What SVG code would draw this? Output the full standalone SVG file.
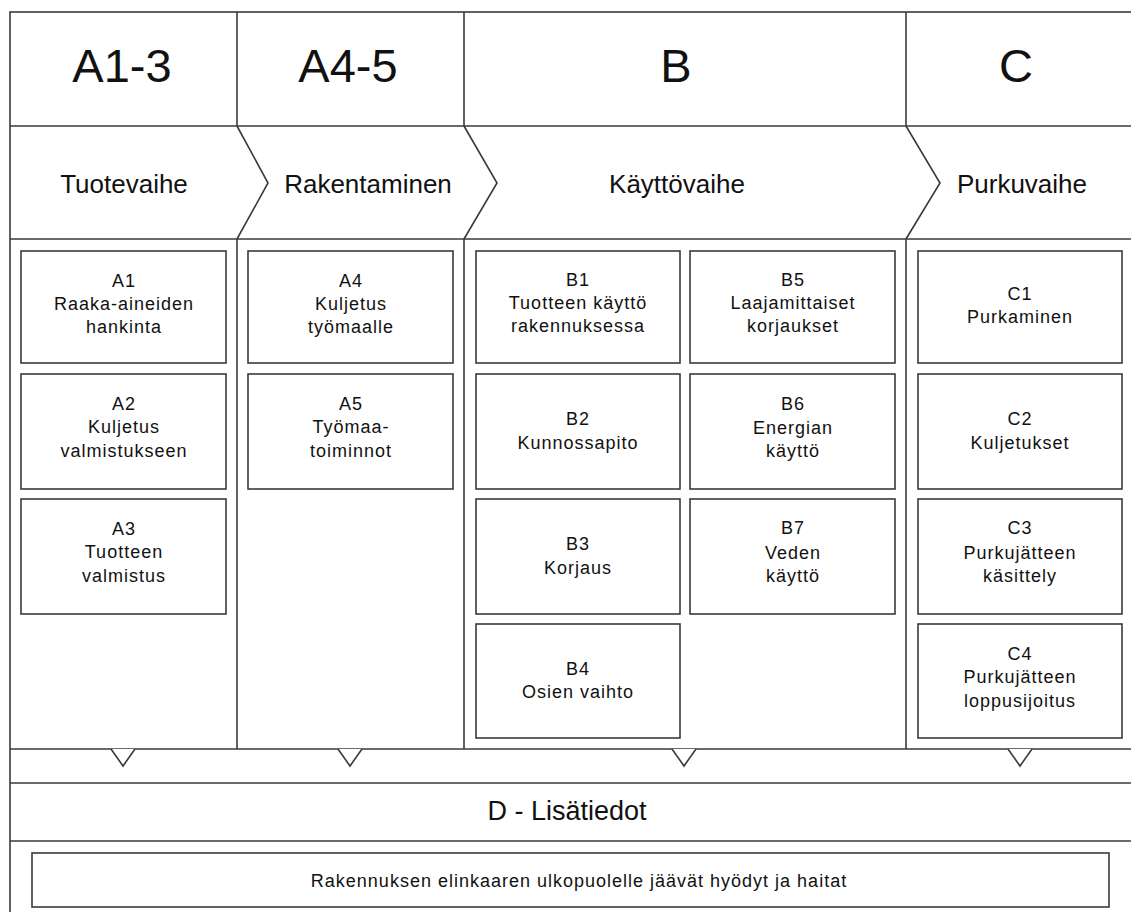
<svg xmlns="http://www.w3.org/2000/svg" width="1131" height="912" viewBox="0 0 1131 912">
<style>
.ln{fill:none;stroke:#3a3a3a;stroke-width:1.6}
.bx{fill:#fff;stroke:#3a3a3a;stroke-width:1.6}
.t{font-family:"Liberation Sans",Arial,sans-serif;fill:#111;text-anchor:middle}
.big{font-size:47px}
.mid{font-size:26px}
.sm{font-size:18px;letter-spacing:1px}
</style>
<rect x="0" y="0" width="1131" height="912" fill="#fff"/>
<g id="frame">
<rect class="ln" x="10" y="12" width="1130" height="910"/>
<line class="ln" x1="10" y1="126" x2="1131" y2="126"/>
<line class="ln" x1="10" y1="239" x2="1131" y2="239"/>
<line class="ln" x1="237" y1="12" x2="237" y2="126"/>
<line class="ln" x1="464" y1="12" x2="464" y2="126"/>
<line class="ln" x1="906" y1="12" x2="906" y2="126"/>
<line class="ln" x1="237" y1="239" x2="237" y2="749"/>
<line class="ln" x1="464" y1="239" x2="464" y2="749"/>
<line class="ln" x1="906" y1="239" x2="906" y2="749"/>
<line class="ln" x1="10" y1="749" x2="1131" y2="749"/>
<line class="ln" x1="10" y1="783" x2="1131" y2="783"/>
<line class="ln" x1="10" y1="841" x2="1131" y2="841"/>
<path class="ln" d="M237,126 L268,183 L237,239"/>
<path class="ln" d="M464,126 L497,183 L464,239"/>
<path class="ln" d="M906,126 L940,183 L906,239"/>
</g>
<g id="headers">
<text class="t big" x="122" y="82">A1-3</text>
<text class="t big" x="348" y="82">A4-5</text>
<text class="t big" x="676" y="82">B</text>
<text class="t big" x="1016" y="82">C</text>
<text class="t mid" x="124" y="193">Tuotevaihe</text>
<text class="t mid" x="368" y="193">Rakentaminen</text>
<text class="t mid" x="677" y="193">Käyttövaihe</text>
<text class="t mid" x="1022" y="193">Purkuvaihe</text>
</g>
<g id="A1"><rect class="bx" x="21" y="251" width="205" height="112"/>
<text class="t sm" x="124" y="287">A1</text><text class="t sm" x="124" y="310">Raaka-aineiden</text><text class="t sm" x="124" y="333">hankinta</text></g>
<g id="A2"><rect class="bx" x="21" y="374" width="205" height="115"/>
<text class="t sm" x="124" y="410">A2</text><text class="t sm" x="124" y="433">Kuljetus</text><text class="t sm" x="124" y="457">valmistukseen</text></g>
<g id="A3"><rect class="bx" x="21" y="499" width="205" height="115"/>
<text class="t sm" x="124" y="535">A3</text><text class="t sm" x="124" y="558">Tuotteen</text><text class="t sm" x="124" y="582">valmistus</text></g>
<g id="A4"><rect class="bx" x="248" y="251" width="205" height="112"/>
<text class="t sm" x="351" y="287">A4</text><text class="t sm" x="351" y="310">Kuljetus</text><text class="t sm" x="351" y="333">työmaalle</text></g>
<g id="A5"><rect class="bx" x="248" y="374" width="205" height="115"/>
<text class="t sm" x="351" y="410">A5</text><text class="t sm" x="351" y="433">Työmaa-</text><text class="t sm" x="351" y="457">toiminnot</text></g>
<g id="B1"><rect class="bx" x="476" y="251" width="204" height="112"/>
<text class="t sm" x="578" y="286">B1</text><text class="t sm" x="578" y="309">Tuotteen käyttö</text><text class="t sm" x="578" y="332">rakennuksessa</text></g>
<g id="B2"><rect class="bx" x="476" y="374" width="204" height="115"/>
<text class="t sm" x="578" y="425">B2</text><text class="t sm" x="578" y="449">Kunnossapito</text></g>
<g id="B3"><rect class="bx" x="476" y="499" width="204" height="115"/>
<text class="t sm" x="578" y="550">B3</text><text class="t sm" x="578" y="574">Korjaus</text></g>
<g id="B4"><rect class="bx" x="476" y="624" width="204" height="114"/>
<text class="t sm" x="578" y="675">B4</text><text class="t sm" x="578" y="698">Osien vaihto</text></g>
<g id="B5"><rect class="bx" x="690" y="251" width="205" height="112"/>
<text class="t sm" x="793" y="286">B5</text><text class="t sm" x="793" y="309">Laajamittaiset</text><text class="t sm" x="793" y="332">korjaukset</text></g>
<g id="B6"><rect class="bx" x="690" y="374" width="205" height="115"/>
<text class="t sm" x="793" y="410">B6</text><text class="t sm" x="793" y="434">Energian</text><text class="t sm" x="793" y="457">käyttö</text></g>
<g id="B7"><rect class="bx" x="690" y="499" width="205" height="115"/>
<text class="t sm" x="793" y="534">B7</text><text class="t sm" x="793" y="559">Veden</text><text class="t sm" x="793" y="582">käyttö</text></g>
<g id="C1"><rect class="bx" x="918" y="251" width="204" height="112"/>
<text class="t sm" x="1020" y="300">C1</text><text class="t sm" x="1020" y="323">Purkaminen</text></g>
<g id="C2"><rect class="bx" x="918" y="374" width="204" height="115"/>
<text class="t sm" x="1020" y="425">C2</text><text class="t sm" x="1020" y="449">Kuljetukset</text></g>
<g id="C3"><rect class="bx" x="918" y="499" width="204" height="115"/>
<text class="t sm" x="1020" y="534">C3</text><text class="t sm" x="1020" y="559">Purkujätteen</text><text class="t sm" x="1020" y="582">käsittely</text></g>
<g id="C4"><rect class="bx" x="918" y="624" width="204" height="114"/>
<text class="t sm" x="1020" y="660">C4</text><text class="t sm" x="1020" y="683">Purkujätteen</text><text class="t sm" x="1020" y="707">loppusijoitus</text></g>
<g id="connectors">
<path class="bx" d="M111,749 L123,766 L135,749"/>
<path class="bx" d="M338,749 L350,766 L362,749"/>
<path class="bx" d="M672,749 L684,766 L696,749"/>
<path class="bx" d="M1008,749 L1020,766 L1032,749"/>
</g>
<g id="D">
<text class="t" x="567" y="820" style="font-size:27px">D - Lisätiedot</text>
</g>
<g id="D-box"><rect class="bx" x="32" y="853" width="1077" height="54"/>
<text class="t sm" x="579" y="887">Rakennuksen elinkaaren ulkopuolelle jäävät hyödyt ja haitat</text></g>
</svg>
